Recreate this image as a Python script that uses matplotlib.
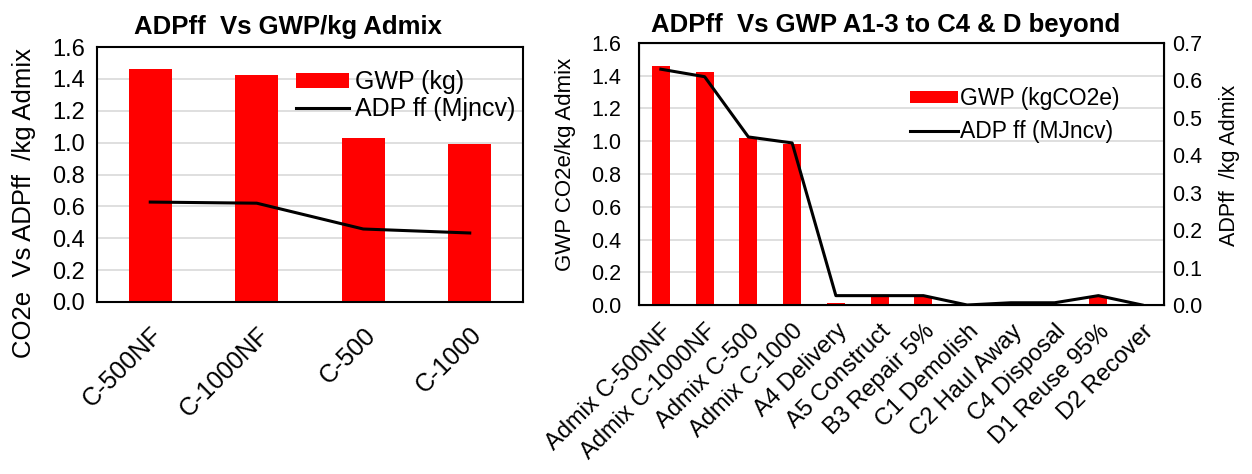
import numpy as np
from matplotlib import pyplot as plt

# left chart data
mixes = ["C-500NF", "C-1000NF", "C-500", "C-1000"]
gwp_mix = [1.46, 1.425, 1.03, 0.99]
adp_mix = [0.627, 0.62, 0.458, 0.433]

# right chart data
stages = ["Admix C-500NF", "Admix C-1000NF", "Admix C-500", "Admix C-1000",
          "A4 Delivery", "A5 Construct", "B3 Repair 5%", "C1 Demolish",
          "C2 Haul Away", "C4 Disposal", "D1 Reuse 95%", "D2 Recover"]
gwp_stage = [1.46, 1.42, 1.02, 0.985, 0.015, 0.055, 0.055, 0.0, 0.0, 0.0, 0.055, 0.0]
adp_stage = [0.63, 0.61, 0.449, 0.433, 0.025, 0.025, 0.025, 0.0, 0.006, 0.006, 0.025, 0.0]

plt.rcParams['font.family'] = ['Liberation Sans', 'DejaVu Sans']

W, H = 1252, 474
red = '#ff0000'
grid_col = '#d9d9d9'

fig = plt.figure(figsize=(W/100, H/100), dpi=100)


def px_axes(x0, y0, x1, y1):
    # pixel box (top-left origin) -> figure fraction
    return [x0/W, 1-y1/H, (x1-x0)/W, (y1-y0)/H]


def fig_text(x, y, s, **kw):
    fig.text(x/W, 1-y/H, s, ha='center', va='center', **kw)


# ---- left chart
ax1 = fig.add_axes(px_axes(97, 47, 523, 302))
x1 = np.arange(len(mixes))
bars1 = ax1.bar(x1, gwp_mix, width=0.4, color=red, zorder=2)
line1, = ax1.plot(x1, adp_mix, color='black', lw=2.2, zorder=3)
ax1.set_xlim(-0.5, len(mixes)-0.5)
ax1.set_ylim(0, 1.6)
yt = np.arange(0, 1.61, 0.2)
ax1.set_yticks(yt)
ax1.set_yticklabels([f"{v:.1f}" for v in yt])
ax1.yaxis.grid(True, color=grid_col, lw=1.2, zorder=0)
ax1.set_axisbelow(True)
ax1.set_xticks(x1)
ax1.set_xticklabels(mixes, rotation=45, ha='right', va='top', rotation_mode='anchor')
ax1.tick_params(axis='y', labelsize=17, length=0, pad=8.5)
ax1.tick_params(axis='x', labelsize=18, length=0, pad=15)
for s in ax1.spines.values():
    s.set_linewidth(1.5)
ax1.legend([bars1, line1], ["GWP (kg)", "ADP ff (Mjncv)"],
           loc='upper left', bbox_to_anchor=(296/W, 1-70/H), bbox_transform=fig.transFigure,
           frameon=False, fontsize=18, handlelength=2.1, handleheight=0.55,
           handletextpad=0.25, labelspacing=0.12, borderpad=0, borderaxespad=0)

fig_text(288, 27, "ADPff  Vs GWP/kg Admix", fontsize=18.5, fontweight='bold')
fig_text(24, 203, "CO2e  Vs ADPff  /kg Admix", fontsize=18.5, rotation=90)

# ---- right chart
ax2 = fig.add_axes(px_axes(639, 43, 1164, 305))
x2 = np.arange(len(stages))
bars2 = ax2.bar(x2, gwp_stage, width=0.41, color=red, zorder=2)
ax2.set_xlim(-0.5, len(stages)-0.5)
ax2.set_ylim(0, 1.6)
ax2.set_yticks(yt)
ax2.set_yticklabels([f"{v:.1f}" for v in yt])
ax2.yaxis.grid(True, color=grid_col, lw=1.2, zorder=0)
ax2.set_axisbelow(True)
ax2.set_xticks(x2)
ax2.set_xticklabels(stages, rotation=45, ha='right', va='top', rotation_mode='anchor')
ax2.tick_params(axis='y', labelsize=15.5, length=0, pad=13)
ax2.tick_params(axis='x', labelsize=17, length=0, pad=11)

ax3 = ax2.twinx()
line2, = ax3.plot(x2, adp_stage, color='black', lw=2.2, zorder=3)
ax3.set_ylim(0, 0.7)
yt2 = np.arange(0, 0.71, 0.1)
ax3.set_yticks(yt2)
ax3.set_yticklabels([f"{v:.1f}" for v in yt2])
ax3.tick_params(axis='y', labelsize=15.5, length=0, pad=6)
for s in ax3.spines.values():
    s.set_linewidth(1.5)

ax3.legend([bars2, line2], ["GWP (kgCO2e)", "ADP ff (MJncv)"],
           loc='upper left', bbox_to_anchor=(910/W, 1-87/H),
           bbox_transform=fig.transFigure, frameon=False, fontsize=16.5,
           handlelength=2.1, handleheight=0.45, handletextpad=0.1,
           labelspacing=0.45, borderpad=0, borderaxespad=0)

fig_text(886, 25, "ADPff  Vs GWP A1-3 to C4 & D beyond", fontsize=18.5, fontweight='bold')
fig_text(566, 164, "GWP CO2e/kg Admix", fontsize=16, rotation=90)
fig_text(1230, 165, "ADPff  /kg Admix", fontsize=15.5, rotation=90)

fig.savefig("out.png", dpi=100)
